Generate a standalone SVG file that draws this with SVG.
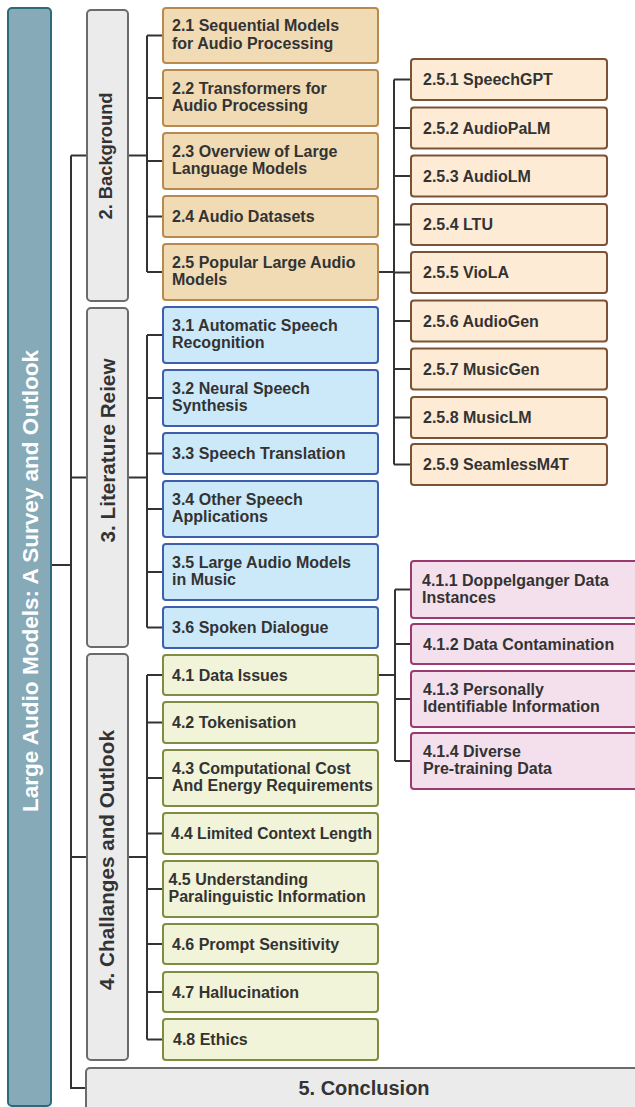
<svg xmlns="http://www.w3.org/2000/svg" width="635" height="1107" viewBox="0 0 635 1107">
<style>
text{font-family:"Liberation Sans",Arial,Helvetica,sans-serif;font-weight:bold;fill:#333333;font-size:16px}
.root{fill:#86aab8;stroke:#2c6b7c;stroke-width:2}
.sec{fill:#ebebeb;stroke:#6b6b6b;stroke-width:2}
.bg{fill:#f0dbb5;stroke:#b98a4f;stroke-width:2}
.lm{fill:#fdebd6;stroke:#7c5236;stroke-width:2}
.lr{fill:#cce9fa;stroke:#3d5fae;stroke-width:2}
.ch{fill:#f1f4d8;stroke:#7f8c42;stroke-width:2}
.di{fill:#f4e0ec;stroke:#9b3a70;stroke-width:2}
.conn path{fill:none;stroke:#333333;stroke-width:2}
.vt{font-size:20.7px;text-anchor:middle}
</style>
<g class="conn" id="connectors">
<path d="M51 565H71M71 155.5V1088H86M71 155.5H87M71 477.5H87M71 857H87"/>
<path d="M128 155.5H147M147 35.5V272M147 35.5H163M147 98H163M147 161H163M147 216.5H163M147 272H163"/>
<path d="M128 477.5H147M147 335V627.5M147 335H163M147 398H163M147 453.5H163M147 509H163M147 572H163M147 627.5H163"/>
<path d="M128 857H147M147 675V1039.5M147 675H163M147 722.5H163M147 778H163M147 833.5H163M147 889H163M147 944H163M147 992H163M147 1039.5H163"/>
<path d="M378 272H394M394 79.5V464.5M394 79.5H411M394 128H411M394 176H411M394 224.5H411M394 272.5H411M394 321H411M394 369H411M394 417.5H411M394 464.5H411"/>
<path d="M378 675H395M395 589.5V761M395 589.5H411M395 644H411M395 699H411M395 761H411"/>
</g>
<g id="root"><rect class="root" x="8" y="8" width="43" height="1098" rx="4"/><text transform="translate(37.5 581) rotate(-90)" text-anchor="middle" style="fill:#ffffff;font-size:22.4px" textLength="462" lengthAdjust="spacingAndGlyphs">Large Audio Models: A Survey and Outlook</text></g>
<g id="s2"><rect class="sec" x="87" y="10" width="41" height="291" rx="4"/><text class="vt" transform="translate(112 156) rotate(-90)" style="font-size:18.3px">2. Background</text></g>
<g id="s3"><rect class="sec" x="87" y="308" width="41" height="339" rx="4"/><text class="vt" transform="translate(115 450.5) rotate(-90)">3. Literature Reiew</text></g>
<g id="s4"><rect class="sec" x="87" y="654" width="41" height="406" rx="4"/><text class="vt" transform="translate(113.5 860) rotate(-90)">4. Challanges and Outlook</text></g>
<g id="s5"><rect class="sec" x="86" y="1068" width="560" height="50" rx="4"/><text x="364" y="1095" text-anchor="middle" style="font-size:20px">5. Conclusion</text></g>
<g id="n21"><rect class="bg" x="163" y="8" width="215" height="55" rx="3"/><text x="172" y="31.2">2.1 Sequential Models</text><text x="172" y="48.7">for Audio Processing</text></g>
<g id="n22"><rect class="bg" x="163" y="70" width="215" height="56" rx="3"/><text x="172" y="93.7">2.2 Transformers for</text><text x="172" y="111.2">Audio Processing</text></g>
<g id="n23"><rect class="bg" x="163" y="133" width="215" height="56" rx="3"/><text x="172" y="156.7">2.3 Overview of Large</text><text x="172" y="174.2">Language Models</text></g>
<g id="n24"><rect class="bg" x="163" y="196" width="215" height="41" rx="3"/><text x="172" y="222.2">2.4 Audio Datasets</text></g>
<g id="n25"><rect class="bg" x="163" y="244" width="215" height="56" rx="3"/><text x="172" y="267.7">2.5 Popular Large Audio</text><text x="172" y="285.2">Models</text></g>
<g id="n251"><rect class="lm" x="411" y="59" width="196" height="41" rx="3"/><text x="423" y="85.2">2.5.1 SpeechGPT</text></g>
<g id="n252"><rect class="lm" x="411" y="107.5" width="196" height="41" rx="3"/><text x="423" y="133.7">2.5.2 AudioPaLM</text></g>
<g id="n253"><rect class="lm" x="411" y="155.5" width="196" height="41" rx="3"/><text x="423" y="181.7">2.5.3 AudioLM</text></g>
<g id="n254"><rect class="lm" x="411" y="204" width="196" height="41" rx="3"/><text x="423" y="230.2">2.5.4 LTU</text></g>
<g id="n255"><rect class="lm" x="411" y="252" width="196" height="41" rx="3"/><text x="423" y="278.2">2.5.5 VioLA</text></g>
<g id="n256"><rect class="lm" x="411" y="300.5" width="196" height="41" rx="3"/><text x="423" y="326.7">2.5.6 AudioGen</text></g>
<g id="n257"><rect class="lm" x="411" y="348.5" width="196" height="41" rx="3"/><text x="423" y="374.7">2.5.7 MusicGen</text></g>
<g id="n258"><rect class="lm" x="411" y="397" width="196" height="41" rx="3"/><text x="423" y="423.2">2.5.8 MusicLM</text></g>
<g id="n259"><rect class="lm" x="411" y="444" width="196" height="41" rx="3"/><text x="423" y="470.2">2.5.9 SeamlessM4T</text></g>
<g id="n31"><rect class="lr" x="163" y="307" width="215" height="56" rx="3"/><text x="172" y="330.7">3.1 Automatic Speech</text><text x="172" y="348.2">Recognition</text></g>
<g id="n32"><rect class="lr" x="163" y="370" width="215" height="56" rx="3"/><text x="172" y="393.7">3.2 Neural Speech</text><text x="172" y="411.2">Synthesis</text></g>
<g id="n33"><rect class="lr" x="163" y="433" width="215" height="41" rx="3"/><text x="172" y="459.2">3.3 Speech Translation</text></g>
<g id="n34"><rect class="lr" x="163" y="481" width="215" height="56" rx="3"/><text x="172" y="504.7">3.4 Other Speech</text><text x="172" y="522.2">Applications</text></g>
<g id="n35"><rect class="lr" x="163" y="544" width="215" height="56" rx="3"/><text x="172" y="567.7">3.5 Large Audio Models</text><text x="172" y="585.2">in Music</text></g>
<g id="n36"><rect class="lr" x="163" y="607" width="215" height="41" rx="3"/><text x="172" y="633.2">3.6 Spoken Dialogue</text></g>
<g id="n41"><rect class="ch" x="163" y="655" width="215" height="40" rx="3"/><text x="172" y="680.7">4.1 Data Issues</text></g>
<g id="n42"><rect class="ch" x="163" y="702" width="215" height="41" rx="3"/><text x="172" y="728.2">4.2 Tokenisation</text></g>
<g id="n43"><rect class="ch" x="163" y="750" width="215" height="56" rx="3"/><text x="172" y="773.7">4.3 Computational Cost</text><text x="172" y="791.2">And Energy Requirements</text></g>
<g id="n44"><rect class="ch" x="163" y="813" width="215" height="41" rx="3"/><text x="171" y="839.2" textLength="201" lengthAdjust="spacingAndGlyphs">4.4 Limited Context Length</text></g>
<g id="n45"><rect class="ch" x="163" y="861" width="215" height="56" rx="3"/><text x="168.5" y="884.7">4.5 Understanding</text><text x="168.5" y="902.2">Paralinguistic Information</text></g>
<g id="n46"><rect class="ch" x="163" y="924" width="215" height="40" rx="3"/><text x="172" y="949.7">4.6 Prompt Sensitivity</text></g>
<g id="n47"><rect class="ch" x="163" y="972" width="215" height="40" rx="3"/><text x="172" y="997.7">4.7 Hallucination</text></g>
<g id="n48"><rect class="ch" x="163" y="1019" width="215" height="41" rx="3"/><text x="173" y="1045.2">4.8 Ethics</text></g>
<g id="n411"><rect class="di" x="411" y="561" width="235" height="57" rx="3"/><text x="422" y="585.7">4.1.1 Doppelganger Data</text><text x="422" y="603.2">Instances</text></g>
<g id="n412"><rect class="di" x="411" y="624" width="235" height="40" rx="3"/><text x="423" y="649.7">4.1.2 Data Contamination</text></g>
<g id="n413"><rect class="di" x="411" y="671" width="235" height="56" rx="3"/><text x="423" y="694.7">4.1.3 Personally</text><text x="423" y="712.2">Identifiable Information</text></g>
<g id="n414"><rect class="di" x="411" y="733" width="235" height="56" rx="3"/><text x="423" y="756.7">4.1.4 Diverse</text><text x="423" y="774.2">Pre-training Data</text></g>
</svg>
